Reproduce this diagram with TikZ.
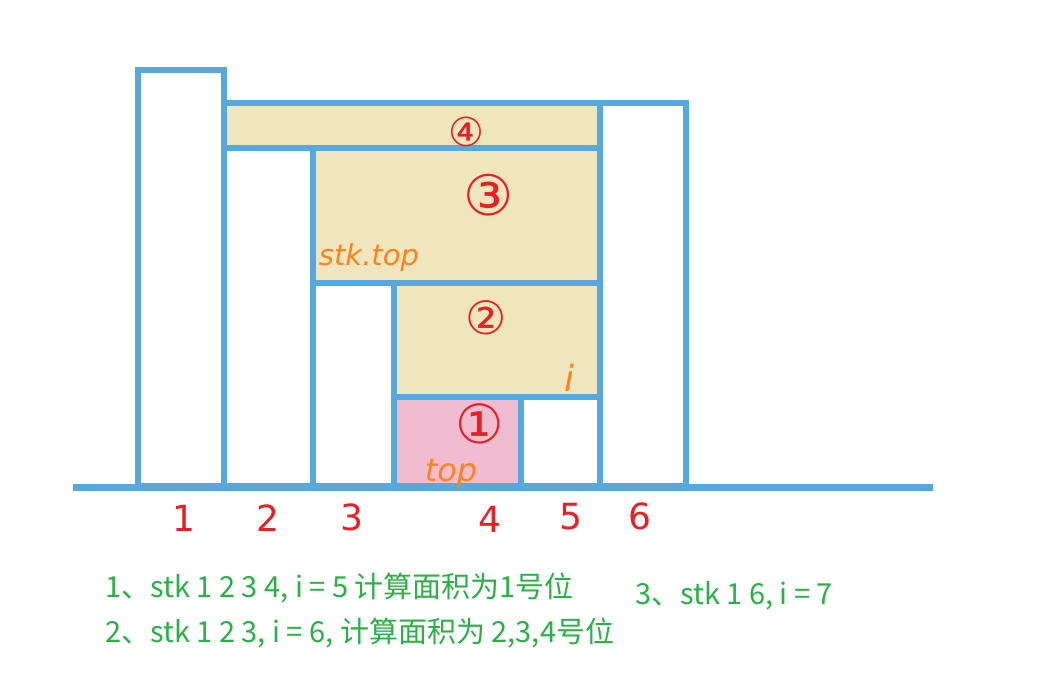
\documentclass[tikz,border=0pt]{standalone}
\usepackage{fontspec}
\newfontfamily\cjk{Noto Sans CJK SC}
\newfontfamily\dv{DejaVu Sans}
\newfontfamily\hand{DejaVu Sans}
\definecolor{barblue}{RGB}{88,168,224}
\definecolor{beige}{RGB}{239,230,190}
\definecolor{pinkf}{RGB}{240,188,208}
\definecolor{hred}{RGB}{235,30,35}
\definecolor{horange}{RGB}{255,130,30}
\definecolor{tgreen}{RGB}{40,178,70}
\tikzset{
  bar/.style={draw=barblue,line width=6.5pt},
  numlab/.style={text=hred,font=\hand\fontsize{36}{36}\selectfont,inner sep=0pt},
  circlab/.style={text=hred,font=\dv,inner sep=0pt},
  orlab/.style={text=horange,font=\hand\itshape,inner sep=0pt},
  gtext/.style={text=tgreen,font=\cjk\fontsize{29}{29}\selectfont,inner sep=0pt,anchor=base west}
}
\begin{document}
\begin{tikzpicture}[x=1pt,y=-1pt]
\useasboundingbox (0,0) rectangle (1040,672);
\fill[white] (0,0) rectangle (1040,672);
% fills
\fill[beige] (224,103) rectangle (600,148);
\fill[beige] (313,148) rectangle (600,283);
\fill[beige] (394,283) rectangle (600,397);
\fill[pinkf] (394,397) rectangle (521,486);
% outlines
\draw[bar] (224,103) rectangle (600,148);
\draw[bar] (313,148) rectangle (600,283);
\draw[bar] (394,283) rectangle (600,397);
\draw[bar] (138,70) rectangle (224,486);
\draw[bar] (224,148) rectangle (313,486);
\draw[bar] (313,283) rectangle (394,486);
\draw[bar] (394,397) rectangle (521,486);
\draw[bar] (521,397) rectangle (600,486);
\draw[bar] (600,103) rectangle (686,486);
\coordinate (bl) at (73,487);
\coordinate (br) at (933,487);
\draw[bar,line width=7pt] (bl) -- (br);
% bar numbers
\node[numlab] (n1) at (184,518) {1};
\node[numlab] (n2) at (268,518) {2};
\node[numlab] (n3) at (352,517) {3};
\node[numlab] (n4) at (490,519) {4};
\node[numlab] (n5) at (571,517) {5};
\node[numlab] (n6) at (640,516) {6};
% circled labels
\node[circlab,font=\dv\fontsize{40}{40}\selectfont] (c4) at (466,132) {④};
\node[circlab,font=\dv\fontsize{56}{56}\selectfont] (c3) at (489,195) {③};
\node[circlab,font=\dv\fontsize{46}{46}\selectfont] (c2) at (486,318) {②};
\node[circlab,font=\dv\fontsize{54}{54}\selectfont] (c1) at (480,424) {①};
% orange labels
\node[orlab,font=\hand\itshape\fontsize{29}{29}\selectfont] (stktop) at (369,257) {stk.top};
\node[orlab,font=\hand\itshape\fontsize{32}{32}\selectfont] (top) at (451,474) {top};
\node[orlab,font=\hand\itshape\fontsize{36}{36}\selectfont] (ilab) at (569,378) {i};
% green text
\node[gtext] (t1) at (105,597) {1、stk 1 2 3 4, i = 5 计算面积为1号位};
\node[gtext] (t2) at (105,642) {2、stk 1 2 3, i = 6, 计算面积为 2,3,4号位};
\node[gtext] (t3) at (635,604) {3、stk 1 6, i = 7};
\end{tikzpicture}
\end{document}
